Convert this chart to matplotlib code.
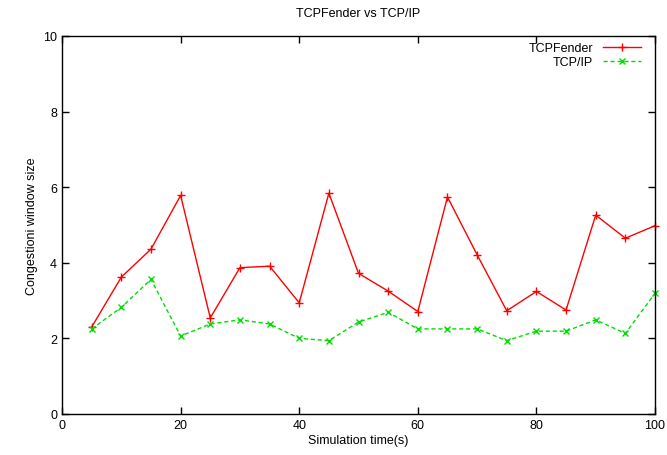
import matplotlib
matplotlib.use('Agg')
import matplotlib.pyplot as plt

plt.rcParams['font.family'] = ['Liberation Sans', 'DejaVu Sans']
plt.rcParams['font.size'] = 9

time_s = [5, 10, 15, 20, 25, 30, 35, 40, 45, 50, 55, 60, 65, 70, 75, 80, 85, 90, 95, 100]
tcpfender = [2.30, 3.62, 4.36, 5.78, 2.54, 3.87, 3.91, 2.94, 5.84, 3.72,
             3.25, 2.71, 5.74, 4.21, 2.73, 3.24, 2.75, 5.26, 4.65, 4.98]
tcpip = [2.25, 2.82, 3.56, 2.06, 2.38, 2.49, 2.38, 2.00, 1.94, 2.43,
         2.69, 2.25, 2.25, 2.25, 1.94, 2.19, 2.19, 2.49, 2.13, 3.19]

fig = plt.figure(figsize=(6.67, 4.56), dpi=100)
ax = fig.add_axes([0.093, 0.09, 0.889, 0.829])

ax.plot(time_s, tcpfender, color='#ff0000', lw=1, marker='+', ms=6, mew=1,
        label='TCPFender', clip_on=False)
ax.plot(time_s, tcpip, color='#00dd00', lw=1, ls=(0, (3, 2)), marker='x', ms=4.5, mew=1,
        label='TCP/IP', clip_on=False)

ax.set_xlim(0, 100)
ax.set_ylim(0, 10)
ax.set_xticks([0, 20, 40, 60, 80, 100])
ax.set_yticks([0, 2, 4, 6, 8, 10])
ax.tick_params(direction='in', top=True, right=True, length=5, width=1)
for s in ax.spines.values():
    s.set_linewidth(1)

ax.set_title('TCPFender vs TCP/IP', fontsize=9, pad=14)
ax.set_xlabel('Simulation time(s)', labelpad=2)
ax.set_ylabel('Congestioni window size')

ax.legend(loc='upper right', frameon=False, markerfirst=False, handlelength=3.0,
          borderaxespad=0.0, borderpad=0.2, labelspacing=0.15, handletextpad=0.8,
          bbox_to_anchor=(0.98, 0.99))

fig.savefig('out.png', dpi=100)
